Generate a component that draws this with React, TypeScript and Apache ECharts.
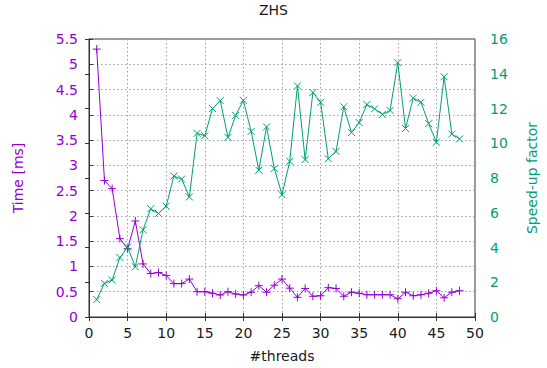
import React, { useEffect, useRef } from "react";
import * as echarts from "echarts";

const threads = [
  1, 2, 3, 4, 5, 6, 7, 8, 9, 10, 11, 12, 13, 14, 15, 16, 17, 18, 19, 20, 21, 22, 23, 24,
  25, 26, 27, 28, 29, 30, 31, 32, 33, 34, 35, 36, 37, 38, 39, 40, 41, 42, 43, 44, 45, 46, 47, 48,
];

const timeMs = [
  5.3, 2.7, 2.54, 1.55, 1.35, 1.9, 1.05, 0.86, 0.88, 0.82, 0.66, 0.66, 0.75, 0.5, 0.5, 0.47,
  0.435, 0.5, 0.455, 0.435, 0.49, 0.62, 0.49, 0.63, 0.75, 0.57, 0.39, 0.565, 0.41, 0.42, 0.58,
  0.565, 0.41, 0.49, 0.47, 0.44, 0.44, 0.44, 0.44, 0.36, 0.49, 0.42, 0.44, 0.47, 0.52, 0.38,
  0.49, 0.52,
];

const speedUp = [
  1.0, 1.94, 2.13, 3.42, 4.02, 2.89, 5.02, 6.23, 5.96, 6.38, 8.11, 7.94, 6.91, 10.57, 10.43,
  12.0, 12.45, 10.34, 11.6, 12.47, 10.68, 8.45, 10.94, 8.55, 7.04, 8.96, 13.3, 9.06, 12.92,
  12.36, 9.11, 9.53, 12.1, 10.62, 11.19, 12.23, 11.98, 11.66, 11.89, 14.64, 10.85, 12.6, 12.36,
  11.13, 10.06, 13.83, 10.53, 10.25,
];

const chartTitle = "ZHS";
const xName = "#threads";
const yLeftName = "Time [ms]";
const yRightName = "Speed-up factor";

const PURPLE = "#9400d3";
const GREEN = "#009e73";
const TEXT = "#1a1a1a";
const BORDER = "#333333";
const FONT = "DejaVu Sans";

export default function App() {
  const ref = useRef<HTMLDivElement>(null);

  useEffect(() => {
    document.body.style.margin = "0";
    const chart = echarts.init(ref.current!, null, { renderer: "svg" });
    const gridDots = { color: "#a0a0a0", width: 1, type: [1.5, 2.5] as any };
    chart.setOption({
      animation: false,
      backgroundColor: "#ffffff",
      title: {
        text: chartTitle,
        left: "center",
        top: 3,
        padding: 0,
        textStyle: { fontFamily: FONT, fontSize: 14, fontWeight: "normal", color: TEXT },
      },
      grid: {
        left: 89,
        top: 39,
        width: 390,
        height: 282,
        show: true,
        borderColor: BORDER,
        borderWidth: 1,
        backgroundColor: "transparent",
      },
      xAxis: [
        {
          type: "value",
          min: 0,
          max: 50,
          interval: 5,
          position: "bottom",
          name: xName,
          nameLocation: "middle",
          nameGap: 32,
          nameTextStyle: { fontFamily: FONT, fontSize: 14, color: TEXT },
          axisLine: { show: true, lineStyle: { color: BORDER, width: 1 } },
          axisTick: { show: true, inside: true, length: 4, lineStyle: { color: BORDER } },
          axisLabel: { fontFamily: FONT, fontSize: 14, color: TEXT, margin: 9 },
          splitLine: { show: true, lineStyle: gridDots },
        },
        {
          type: "value",
          min: 0,
          max: 50,
          interval: 5,
          position: "top",
          axisLine: { show: true, lineStyle: { color: BORDER, width: 1 } },
          axisTick: { show: true, inside: true, length: 4, lineStyle: { color: BORDER } },
          axisLabel: { show: false },
          splitLine: { show: false },
        },
      ],
      yAxis: [
        {
          type: "value",
          min: 0,
          max: 5.5,
          interval: 0.5,
          position: "left",
          name: yLeftName,
          nameLocation: "middle",
          nameRotate: 90,
          nameGap: 64,
          nameTextStyle: { fontFamily: FONT, fontSize: 14, color: PURPLE },
          axisLine: { show: true, lineStyle: { color: BORDER, width: 1 } },
          axisTick: { show: true, inside: true, length: 4, lineStyle: { color: BORDER } },
          axisLabel: { fontFamily: FONT, fontSize: 14, color: PURPLE, margin: 11 },
          splitLine: { show: true, lineStyle: gridDots },
        },
        {
          type: "value",
          min: 0,
          max: 16,
          interval: 2,
          position: "right",
          name: yRightName,
          nameLocation: "middle",
          nameRotate: 90,
          nameGap: 50,
          nameTextStyle: { fontFamily: FONT, fontSize: 14, color: GREEN },
          axisLine: { show: true, lineStyle: { color: BORDER, width: 1 } },
          axisTick: { show: true, inside: true, length: 4, lineStyle: { color: BORDER } },
          axisLabel: { fontFamily: FONT, fontSize: 14, color: GREEN, margin: 15 },
          splitLine: { show: false },
        },
      ],
      series: [
        {
          name: yLeftName,
          type: "line",
          xAxisIndex: 0,
          yAxisIndex: 0,
          data: threads.map((t, i) => [t, timeMs[i]]),
          symbol: "path://M0,5L10,5M5,0L5,10",
          symbolSize: 8,
          showAllSymbol: true,
          lineStyle: { color: PURPLE, width: 1 },
          itemStyle: { color: "transparent", borderColor: PURPLE, borderWidth: 1 },
          z: 3,
        },
        {
          name: yRightName,
          type: "line",
          xAxisIndex: 0,
          yAxisIndex: 1,
          data: threads.map((t, i) => [t, speedUp[i]]),
          symbol: "path://M0,0L10,10M0,10L10,0",
          symbolSize: 7,
          showAllSymbol: true,
          lineStyle: { color: GREEN, width: 1 },
          itemStyle: { color: "transparent", borderColor: GREEN, borderWidth: 1 },
          z: 4,
        },
      ],
    });
    return () => chart.dispose();
  }, []);

  return (
    <div
      ref={ref}
      style={{ position: "fixed", left: 0, top: 0, width: 547, height: 368 }}
    />
  );
}
